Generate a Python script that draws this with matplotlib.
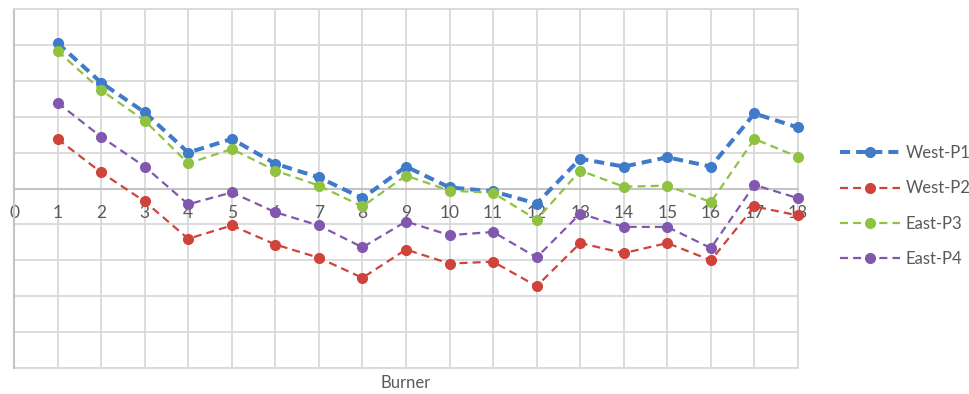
import numpy as np
import matplotlib
matplotlib.use("Agg")
import matplotlib.pyplot as plt

burners = list(range(1, 19))

west_p1 = [4.05, 2.95, 2.12, 1.00, 1.38, 0.69, 0.31, -0.27, 0.61, 0.03,
           -0.08, -0.42, 0.83, 0.61, 0.87, 0.61, 2.09, 1.70]
west_p2 = [1.38, 0.45, -0.36, -1.40, -1.03, -1.56, -1.93, -2.49, -1.70, -2.09,
           -2.04, -2.72, -1.52, -1.80, -1.52, -2.00, -0.50, -0.75]
east_p3 = [3.83, 2.74, 1.89, 0.70, 1.10, 0.50, 0.08, -0.50, 0.36, -0.06,
           -0.12, -0.87, 0.50, 0.05, 0.08, -0.38, 1.38, 0.88]
east_p4 = [2.39, 1.44, 0.61, -0.44, -0.11, -0.66, -1.03, -1.64, -0.92, -1.30,
           -1.21, -1.92, -0.70, -1.07, -1.07, -1.66, 0.10, -0.27]

series = [
    ("West-P1", west_p1, "#3f7bc8", 2.9, (0, (2.5, 1.5))),
    ("West-P2", west_p2, "#d0433b", 1.6, (0, (3.6, 2.3))),
    ("East-P3", east_p3, "#90c242", 1.6, (0, (3.6, 2.3))),
    ("East-P4", east_p4, "#8258ae", 1.6, (0, (3.6, 2.3))),
]

plt.rcParams["font.family"] = ["Lato", "DejaVu Sans"]

fig = plt.figure(figsize=(9.69, 3.94), dpi=100)
ax = fig.add_axes([14 / 969, 26 / 394, 784 / 969, 359 / 394])

for name, vals, color, lw, ls in series:
    ax.plot(burners, vals, color=color, lw=lw, linestyle=ls, marker="o",
            markersize=7, label=name, clip_on=False, zorder=3)

ax.set_xlim(0, 18)
ax.set_ylim(-5, 5)
ax.set_xticks(range(0, 19))
ax.set_yticks(range(-5, 6))
ax.set_yticklabels([])
ax.grid(True, color="#d9d9d9", lw=1.3)
ax.set_axisbelow(True)

for s in ["top", "right"]:
    ax.spines[s].set_color("#d9d9d9")
    ax.spines[s].set_linewidth(1.3)
ax.spines["left"].set_color("#c4c4c4")
ax.spines["left"].set_linewidth(1.5)
ax.spines["bottom"].set_position(("data", 0))
ax.spines["bottom"].set_color("#c4c4c4")
ax.spines["bottom"].set_linewidth(1.5)
ax.axhline(-5, color="#d9d9d9", lw=1.3, zorder=0, clip_on=False)

ax.tick_params(axis="x", length=0, pad=12, labelsize=12.5, labelcolor="#595959")
ax.tick_params(axis="y", length=0)

ax.text(0.5, -0.042, "Burner", transform=ax.transAxes, ha="center",
        va="center", fontsize=12, color="#595959")

fig.legend(loc="center left", bbox_to_anchor=(840 / 969, 0.477),
           frameon=False, fontsize=12, handlelength=3.6, handletextpad=0.35,
           labelspacing=1.15, borderpad=0, borderaxespad=0,
           labelcolor="#595959")

fig.savefig("out.png", dpi=100)
